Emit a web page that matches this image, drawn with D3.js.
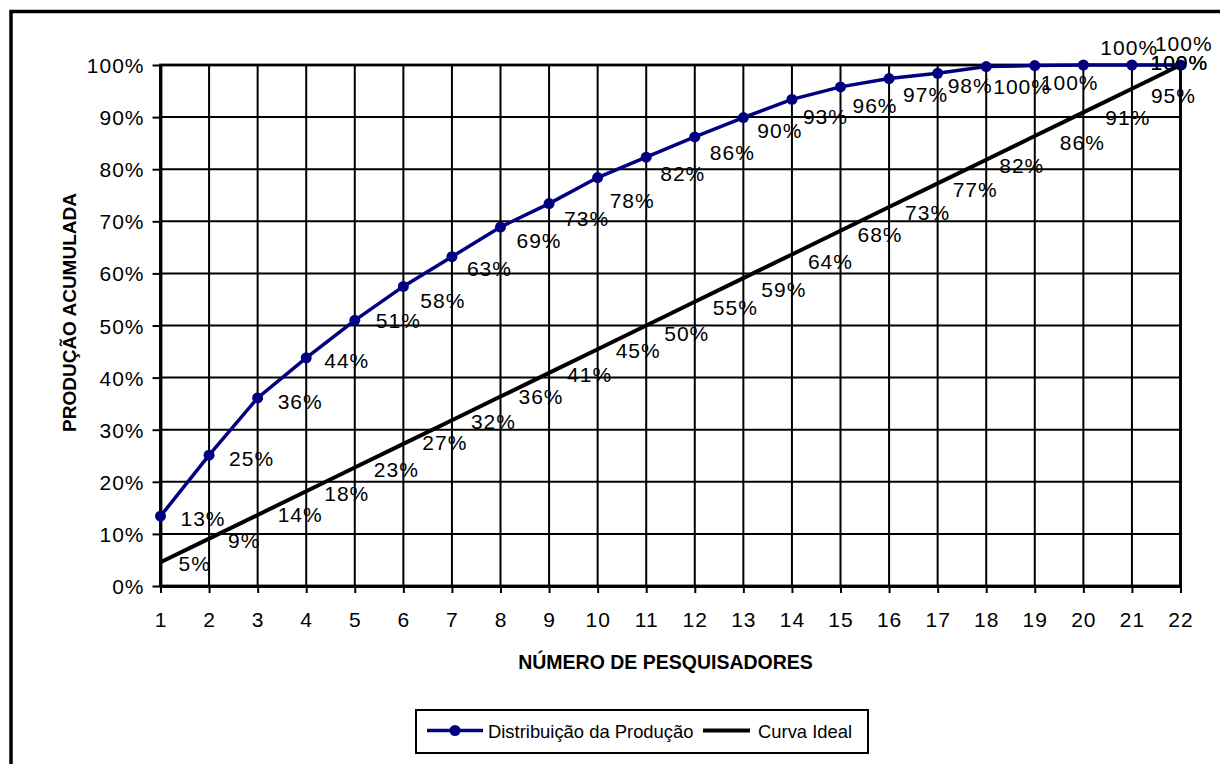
<!DOCTYPE html>
<html><head><meta charset="utf-8">
<script src="https://cdn.jsdelivr.net/npm/d3@7"></script>
<style>
html,body{margin:0;padding:0;background:#fff;overflow:hidden;}
svg{display:block;}
text{font-family:"Liberation Sans",Arial,sans-serif;fill:#000;}
</style>
</head><body>
<svg id="c" width="1220" height="764"></svg>
<script>
// ---- data ----
const categories = [1,2,3,4,5,6,7,8,9,10,11,12,13,14,15,16,17,18,19,20,21,22];
const distribuicao = [13.4,25.1,36.1,43.8,51.0,57.5,63.2,68.9,73.4,78.4,82.3,86.2,89.9,93.4,95.8,97.4,98.4,99.7,99.9,100,100,100];
const curvaIdeal = [4.55,9.09,13.64,18.18,22.73,27.27,31.82,36.36,40.91,45.45,50,54.55,59.09,63.64,68.18,72.73,77.27,81.82,86.36,90.91,95.45,100];
const yTicks = [0,10,20,30,40,50,60,70,80,90,100];
const seriesNames = ["Distribuição da Produção","Curva Ideal"];
const xTitle = "NÚMERO DE PESQUISADORES";
const yTitle = "PRODUÇÃO ACUMULADA";

// ---- layout (label nudges, px) ----
const blueDx = [20,20,20,18,21,17,15,16,15,12,14,15,14,11,12,14,10,7,6,17,23,-30];
const blueDy = [2,3,4,3,0,14,12,13,15,23,16,16,13,17,19,16,12,20,17,-18,-22,-3];
const blackDx = [18,19,20,18,19,19,19,18,18,18,18,18,18,16,17,16,15,13,25,22,19,-30];
const blackDy = [1,2,0,2,2,-1,1,0,2,1,8,6,11,7,4,5,6,6,6,5,7,-3];

const NAVY = "#000080";
const NUMFONT = 21, NUMLS = "1px";
const svg = d3.select("#c");

// outer frame
svg.append("rect").attr("x",11).attr("y",11.5).attr("width",1400).attr("height",1000)
  .attr("fill","none").attr("stroke","#000").attr("stroke-width",3.5);

const x = d3.scalePoint().domain(categories).range([160.5,1180.5]);
const y = d3.scaleLinear().domain([0,100]).range([586,65]);

// gridlines
const g = svg.append("g");
g.selectAll("line.h").data(yTicks).join("line")
  .attr("x1",x(1)).attr("x2",x(22)).attr("y1",d=>y(d)).attr("y2",d=>y(d))
  .attr("stroke","#000").attr("stroke-width",2);
g.selectAll("line.v").data(categories).join("line")
  .attr("x1",d=>x(d)).attr("x2",d=>x(d)).attr("y1",y(0)).attr("y2",y(100))
  .attr("stroke","#000").attr("stroke-width",2);
// plot border
svg.append("rect").attr("x",x(1)).attr("y",y(100)).attr("width",x(22)-x(1)).attr("height",y(0)-y(100))
  .attr("fill","none").attr("stroke","#000").attr("stroke-width",2.8);

// axes
const ya = svg.append("g").attr("transform",`translate(${x(1)},0)`)
  .call(d3.axisLeft(y).tickValues(yTicks).tickSize(8).tickSizeOuter(0).tickPadding(8).tickFormat(d=>d+"%"));
ya.select(".domain").attr("stroke-width",2.8);
ya.selectAll(".tick line").attr("stroke-width",2);
ya.selectAll(".tick text").attr("font-size",NUMFONT).attr("dy","0.36em").attr("letter-spacing",NUMLS);

const xa = svg.append("g").attr("transform",`translate(0,${y(0)})`)
  .call(d3.axisBottom(x).tickSize(7).tickSizeOuter(0).tickPadding(0));
xa.select(".domain").attr("stroke-width",2.8);
xa.selectAll(".tick line").attr("stroke-width",2);
xa.selectAll(".tick text").attr("font-size",NUMFONT).attr("y",41).attr("dy",0).attr("letter-spacing",NUMLS);

// lines
const line = d3.line().x((d,i)=>x(categories[i])).y(d=>y(d));
svg.append("path").datum(curvaIdeal).attr("d",line).attr("fill","none").attr("stroke","#000").attr("stroke-width",4);
svg.append("path").datum(distribuicao).attr("d",line).attr("fill","none").attr("stroke",NAVY).attr("stroke-width",3.5);
svg.selectAll("circle.m").data(distribuicao).join("circle")
  .attr("cx",(d,i)=>x(categories[i])).attr("cy",d=>y(d)).attr("r",5.5).attr("fill",NAVY);

// data labels
function labels(vals, dxs, dys){
  svg.append("g").selectAll("text").data(vals).join("text")
    .attr("x",(d,i)=>x(categories[i])+dxs[i])
    .attr("y",(d,i)=>y(d)+dys[i]+7.5)
    .attr("font-size",NUMFONT).attr("letter-spacing",NUMLS)
    .text(d=>Math.round(d)+"%");
}
labels(curvaIdeal, blackDx, blackDy);
labels(distribuicao, blueDx, blueDy);

// titles
svg.append("text").attr("x",665.5).attr("y",669).attr("text-anchor","middle")
  .attr("font-size",19.5).attr("font-weight","bold").text(xTitle);
svg.append("text").attr("transform","translate(76,312.5) rotate(-90)").attr("text-anchor","middle")
  .attr("font-size",19).attr("font-weight","bold").text(yTitle);

// legend
const lg = svg.append("g");
lg.append("rect").attr("x",416).attr("y",710).attr("width",452).attr("height",43)
  .attr("fill","#fff").attr("stroke","#000").attr("stroke-width",2);
lg.append("line").attr("x1",427).attr("x2",483).attr("y1",730.5).attr("y2",730.5).attr("stroke",NAVY).attr("stroke-width",3.5);
lg.append("circle").attr("cx",455).attr("cy",730.5).attr("r",5.5).attr("fill",NAVY);
lg.append("text").attr("x",488).attr("y",738).attr("font-size",18.4).text(seriesNames[0]);
lg.append("line").attr("x1",703).attr("x2",750).attr("y1",730.5).attr("y2",730.5).attr("stroke","#000").attr("stroke-width",4);
lg.append("text").attr("x",758).attr("y",738).attr("font-size",18.4).text(seriesNames[1]);
</script>
</body></html>
